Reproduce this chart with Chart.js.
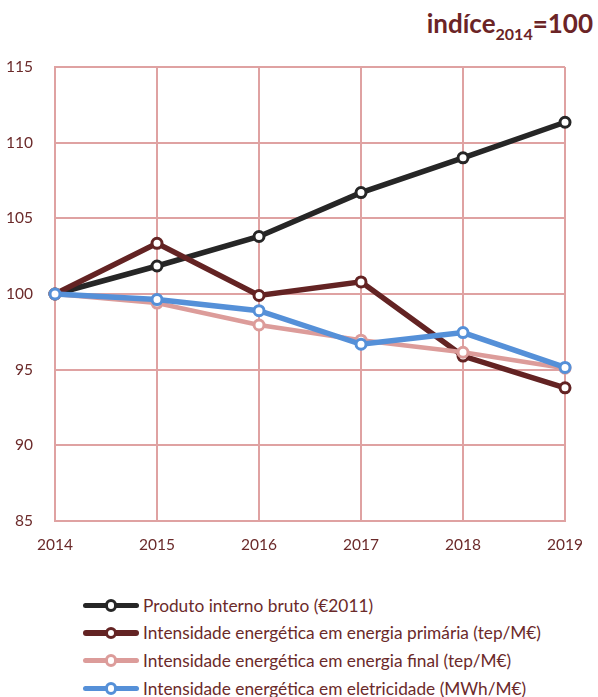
<!DOCTYPE html>
<html>
<head>
<meta charset="utf-8">
<script src="https://cdn.jsdelivr.net/npm/chart.js@4.4.1/dist/chart.umd.min.js"></script>
<style>
  html, body { margin: 0; padding: 0; background: #ffffff; }
  body { width: 598px; height: 697px; position: relative; overflow: hidden; font-family: Lato, "Open Sans", sans-serif; }
  #chart { position: absolute; left: 0; top: 0; }
  #title { position: absolute; right: 5px; top: 10px; font-weight: bold; font-size: 26px; color: #6b2426; line-height: 1; white-space: nowrap; }
  #title sub { font-size: 16px; vertical-align: -7px; line-height: 0; }
  #legend { position: absolute; left: 83px; top: 593.5px; }
  .item { position: relative; height: 27.7px; white-space: nowrap; }
  .sym { position: absolute; left: 0; top: 9px; width: 56px; height: 5.5px; border-radius: 3px; }
  .dot { position: absolute; left: 21.5px; top: -3.5px; width: 6.5px; height: 6.5px; border-radius: 50%; background: #fff; border-width: 3px; border-style: solid; }
  .lab { position: absolute; left: 60px; top: 1px; font-size: 17.3px; color: #6b2a2a; }
</style>
</head>
<body>
<div id="title">indíce<sub>2014</sub>=100</div>
<canvas id="chart" width="598" height="565"></canvas>
<div id="legend"></div>
<script>
const years = ["2014", "2015", "2016", "2017", "2018", "2019"];
const seriesNames = [
  "Produto interno bruto (€2011)",
  "Intensidade energética em energia primária (tep/M€)",
  "Intensidade energética em energia final (tep/M€)",
  "Intensidade energética em eletricidade (MWh/M€)"
];
const pib = [100, 101.85, 103.8, 106.7, 109.0, 111.35];
const primaria = [100, 103.35, 99.9, 100.8, 95.9, 93.8];
const final = [100, 99.4, 97.95, 96.95, 96.15, 95.1];
const eletricidade = [100, 99.63, 98.9, 96.68, 97.45, 95.15];
const yTicks = [85, 90, 95, 100, 105, 110, 115];

const colors = ["#262626", "#632323", "#dc9c9a", "#5590d8"];
const widths = [5.5, 5.5, 4.5, 5.5];
const allData = [pib, primaria, final, eletricidade];

const tickColor = "#6b2a2a";
const gridColor = "#dfa2a2";

const datasets = allData.map((d, i) => ({
  label: seriesNames[i],
  data: d,
  borderColor: colors[i],
  backgroundColor: "#ffffff",
  borderWidth: widths[i],
  pointRadius: 5,
  pointBorderWidth: 3,
  pointBackgroundColor: "#ffffff",
  pointBorderColor: colors[i],
  tension: 0,
  order: 3 - i
}));

new Chart(document.getElementById("chart"), {
  type: "line",
  data: { labels: years, datasets: datasets },
  options: {
    responsive: false,
    animation: false,
    layout: { padding: { top: 67, right: 32, left: 0, bottom: 0 } },
    plugins: { legend: { display: false }, title: { display: false }, tooltip: { enabled: false } },
    scales: {
      x: {
        offset: false,
        grid: { color: gridColor, lineWidth: 2, drawTicks: false },
        border: { color: gridColor, width: 2 },
        ticks: { color: tickColor, font: { family: "Lato", size: 15.5 }, padding: 15, maxRotation: 0 },
        afterFit: s => { s.height = 44; }
      },
      y: {
        min: 85, max: 115,
        afterBuildTicks: s => { s.ticks = yTicks.map(v => ({ value: v })); },
        grid: { color: gridColor, lineWidth: 2, drawTicks: false },
        border: { color: gridColor, width: 2 },
        ticks: { color: tickColor, font: { family: "Lato", size: 15.5 }, padding: 22 },
        afterFit: s => { s.width = 55; }
      }
    }
  }
});

const legend = document.getElementById("legend");
seriesNames.forEach((name, i) => {
  const item = document.createElement("div");
  item.className = "item";
  const sym = document.createElement("div");
  sym.className = "sym";
  sym.style.background = colors[i];
  const dot = document.createElement("div");
  dot.className = "dot";
  dot.style.borderColor = colors[i];
  sym.appendChild(dot);
  const lab = document.createElement("div");
  lab.className = "lab";
  lab.textContent = name;
  item.appendChild(sym);
  item.appendChild(lab);
  legend.appendChild(item);
});
</script>
</body>
</html>
